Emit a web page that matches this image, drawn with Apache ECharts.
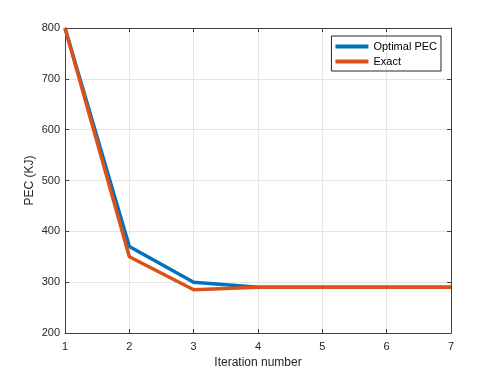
<!DOCTYPE html>
<html>
<head>
<meta charset="utf-8">
<script src="https://cdn.jsdelivr.net/npm/echarts@6/dist/echarts.min.js"></script>
<style>
  html, body { margin: 0; padding: 0; background: #fff; }
  #chart { width: 498px; height: 374px; }
</style>
</head>
<body>
<div id="chart"></div>
<script>
const iterations = [1, 2, 3, 4, 5, 6, 7];
const optimalPec = [800, 370, 300, 290, 290, 290, 290];
const exactPec = [800, 350, 285, 290, 290, 290, 290];

const font = 'Liberation Sans, Arial, sans-serif';
const axisColor = '#404040';

let myChart = echarts.init(document.getElementById('chart'));
let option = {
  animation: false,
  textStyle: { fontFamily: font },
  grid: { left: 65, right: 47, top: 28, bottom: 41, show: false },
  legend: {
    orient: 'vertical',
    right: 57,
    top: 36,
    itemWidth: 33,
    itemHeight: 4,
    itemGap: 4,
    padding: [5, 4, 4, 4],
    borderColor: '#262626',
    borderWidth: 1,
    icon: 'rect',
    textStyle: { fontSize: 11, color: '#000', fontFamily: font },
    data: ['Optimal PEC', 'Exact']
  },
  xAxis: [
    {
      type: 'value',
      min: 1,
      max: 7,
      interval: 1,
      name: 'Iteration number',
      nameLocation: 'middle',
      nameGap: 23,
      nameTextStyle: { fontSize: 12, color: '#262626' },
      axisLine: { show: true, lineStyle: { color: axisColor, width: 1 } },
      axisTick: { show: true, inside: true, length: 4, lineStyle: { color: axisColor } },
      axisLabel: { fontSize: 11, color: '#262626', margin: 8 },
      splitLine: { show: true, lineStyle: { color: '#e5e5e5', width: 1 } }
    },
    {
      type: 'value',
      position: 'top',
      min: 1,
      max: 7,
      interval: 1,
      axisLine: { show: true, lineStyle: { color: axisColor, width: 1 } },
      axisTick: { show: true, inside: true, length: 4, lineStyle: { color: axisColor } },
      axisLabel: { show: false },
      splitLine: { show: false }
    }
  ],
  yAxis: [
    {
      type: 'value',
      min: 200,
      max: 800,
      interval: 100,
      name: 'PEC (KJ)',
      nameLocation: 'middle',
      nameGap: 29,
      nameMoveOverlap: false,
      nameTextStyle: { fontSize: 12, color: '#262626' },
      axisLine: { show: true, lineStyle: { color: axisColor, width: 1 } },
      axisTick: { show: true, inside: true, length: 4, lineStyle: { color: axisColor } },
      axisLabel: { fontSize: 11, color: '#262626', margin: 5 },
      splitLine: { show: true, lineStyle: { color: '#e5e5e5', width: 1 } }
    },
    {
      type: 'value',
      position: 'right',
      min: 200,
      max: 800,
      interval: 100,
      axisLine: { show: true, lineStyle: { color: axisColor, width: 1 } },
      axisTick: { show: true, inside: true, length: 4, lineStyle: { color: axisColor } },
      axisLabel: { show: false },
      splitLine: { show: false }
    }
  ],
  series: [
    {
      name: 'Optimal PEC',
      type: 'line',
      data: iterations.map((x, i) => [x, optimalPec[i]]),
      showSymbol: false,
      color: '#0072BD',
      lineStyle: { width: 3.5, color: '#0072BD' }
    },
    {
      name: 'Exact',
      type: 'line',
      data: iterations.map((x, i) => [x, exactPec[i]]),
      showSymbol: false,
      color: '#D95319',
      lineStyle: { width: 3.5, color: '#D95319' }
    }
  ]
};
myChart.setOption(option);
</script>
</body>
</html>
